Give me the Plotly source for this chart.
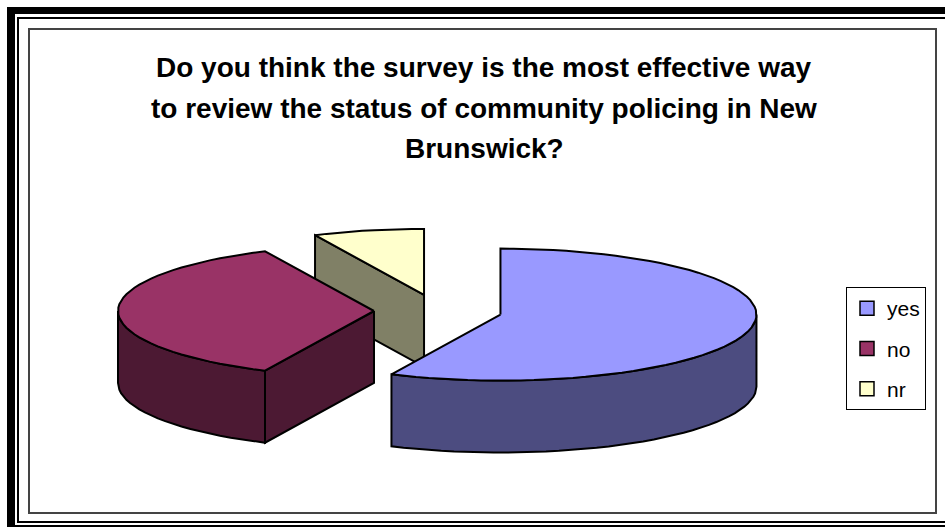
import numpy as np
import plotly.graph_objects as go

# Survey answers (share of respondents, %)
categories = ["yes", "no", "nr"]
values = [57, 36, 7]
top_colors = ["#9999FF", "#993366", "#FFFFCC"]
side_colors = ["#4C4C80", "#4C1933", "#808066"]

title_lines = [
    "Do you think the survey is the most effective way",
    "to review the status of community policing in New",
    "Brunswick?",
]

# Canvas is laid out in pixel units (x right, y down)
W, H = 945, 527
CX, CY = 438, 311      # centre of the pie's top face (before explode)
RX, RY = 256, 66       # projected radii of the tilted disc
DEPTH = 72             # thickness of the disc
EXPLODE = 0.25         # slice offset, as a fraction of the radius
FONT = "Liberation Sans, Arial, sans-serif"


def point(theta_deg, cx, cy, z=0.0):
    t = np.radians(theta_deg)
    return cx + RX * np.sin(t), cy - RY * np.cos(t) + z


def arc(a, b, cx, cy, z=0.0, n=120):
    ts = np.linspace(a, b, max(2, int(n * (b - a) / 360) + 2))
    xs, ys = point(ts, cx, cy, z)
    return list(xs), list(ys)


def face(xs, ys, color):
    return go.Scatter(
        x=xs, y=ys, mode="lines", fill="toself", fillcolor=color,
        line=dict(color="black", width=2), hoverinfo="skip",
        showlegend=False,
    )


fig = go.Figure()

# slice angles, clockwise from 12 o'clock
total = float(sum(values))
ends = np.cumsum(values) / total * 360.0
starts = np.concatenate([[0.0], ends[:-1]])

slices = []
for i, (a, b) in enumerate(zip(starts, ends)):
    mid = np.radians((a + b) / 2)
    cx = CX + EXPLODE * RX * np.sin(mid)
    cy = CY - EXPLODE * RY * np.cos(mid)
    slices.append((cy, i, a, b, cx))

# paint from the back of the pie to the front
for cy, i, a, b, cx in sorted(slices):
    side = side_colors[i]
    # radial walls that face the viewer
    for t, visible in ((a, np.sin(np.radians(a)) < -1e-9),
                       (b, np.sin(np.radians(b)) > 1e-9)):
        if visible:
            ex, ey = point(t, cx, cy)
            fig.add_trace(face([cx, ex, ex, cx, cx],
                               [cy, ey, ey + DEPTH, cy + DEPTH, cy], side))
    # curved outer wall on the front half
    f0, f1 = max(a, 90.0), min(b, 270.0)
    if f1 > f0:
        tx, ty = arc(f0, f1, cx, cy)
        bx, by = arc(f0, f1, cx, cy, DEPTH)
        fig.add_trace(face(tx + bx[::-1] + [tx[0]],
                           ty + by[::-1] + [ty[0]], side))
    # top face
    tx, ty = arc(a, b, cx, cy)
    fig.add_trace(face([cx] + tx + [cx], [cy] + ty + [cy], top_colors[i]))

# legend entries
for name, color in zip(categories, top_colors):
    fig.add_trace(go.Scatter(
        x=[None], y=[None], mode="markers", name=name, legendgroup=name,
        marker=dict(symbol="square", size=14, color=color,
                    line=dict(color="black", width=1.5)),
    ))

# chart frame: heavy outer border, thin rule, grey chart-area box
shapes = [
    dict(type="rect", x0=7, x1=15, y0=7, y1=H + 5, fillcolor="black", line_width=0),
    dict(type="rect", x0=7, x1=W + 5, y0=7, y1=14, fillcolor="black", line_width=0),
    dict(type="rect", x0=7, x1=W + 5, y0=525, y1=H + 5, fillcolor="black", line_width=0),
    dict(type="rect", x0=17, x1=19, y0=17, y1=523, fillcolor="black", line_width=0),
    dict(type="rect", x0=17, x1=W + 5, y0=17, y1=19, fillcolor="black", line_width=0),
    dict(type="rect", x0=17, x1=W + 5, y0=521, y1=523, fillcolor="black", line_width=0),
    dict(type="rect", x0=29, x1=936, y0=29, y1=513, fillcolor="rgba(0,0,0,0)",
         line=dict(color="#444444", width=2)),
]

annotations = [
    dict(x=484, y=yc, xref="x", yref="y", text="<b>%s</b>" % line,
         showarrow=False, xanchor="center", yanchor="middle",
         font=dict(family=FONT, size=28, color="black"))
    for line, yc in zip(title_lines, [67, 108, 148])
]

fig.update_layout(
    width=W, height=H,
    margin=dict(l=0, r=0, t=0, b=0),
    paper_bgcolor="white", plot_bgcolor="white",
    xaxis=dict(range=[0, W], visible=False, fixedrange=True),
    yaxis=dict(range=[H, 0], visible=False, fixedrange=True),
    shapes=shapes,
    annotations=annotations,
    legend=dict(
        x=846 / W, y=1 - 287 / H, xanchor="left", yanchor="top",
        bgcolor="white", bordercolor="black", borderwidth=1,
        font=dict(family=FONT, size=21, color="black"),
        tracegroupgap=10, itemwidth=30,
    ),
)

fig.write_html("out.html")
